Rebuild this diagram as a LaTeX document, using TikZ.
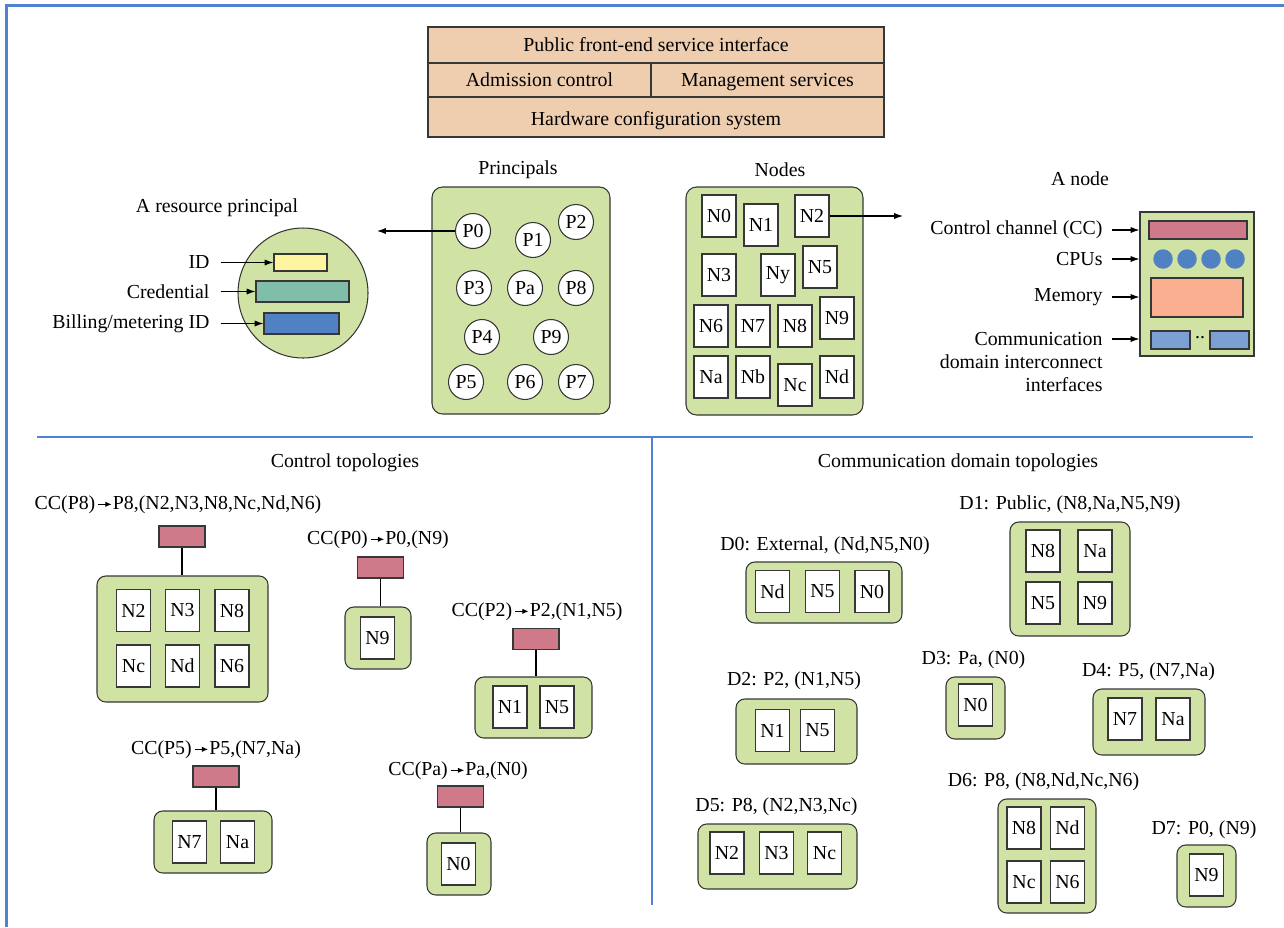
\documentclass[tikz,border=0pt]{standalone}
\usepackage{fontspec}
\setmainfont{Liberation Serif}
\usetikzlibrary{arrows.meta,positioning}
\definecolor{peach}{RGB}{239,206,176}
\definecolor{grpgreen}{RGB}{209,227,164}
\definecolor{ccred}{RGB}{207,122,138}
\definecolor{cpublue}{RGB}{79,129,195}
\definecolor{memsalmon}{RGB}{250,176,144}
\definecolor{ifblue}{RGB}{125,160,212}
\definecolor{idyellow}{RGB}{255,245,160}
\definecolor{credteal}{RGB}{128,190,170}
\definecolor{billblue}{RGB}{80,130,195}
\definecolor{frameblue}{RGB}{80,130,210}
\definecolor{linegray}{RGB}{55,55,55}
\tikzset{
  sz/.style 2 args={minimum width=#1*0.02cm, minimum height=#2*0.02cm},
  layer/.style={draw=linegray, fill=peach, text height=2ex, text depth=0.3ex},
  bigbox/.style={draw=linegray, fill=grpgreen, rounded corners=6pt, inner sep=0pt},
  grp/.style={draw=linegray, fill=grpgreen, rounded corners=5pt, inner sep=0pt},
  cell/.style={draw=linegray, fill=white, minimum width=0.68cm, minimum height=0.84cm, inner sep=0pt},
  prin/.style={circle, draw=linegray, fill=white, minimum size=0.7cm, inner sep=0pt},
  ccbar/.style={draw=linegray, fill=ccred, minimum width=0.92cm, minimum height=0.42cm, inner sep=0pt},
  bar/.style={draw=linegray, inner sep=0pt},
  lbl/.style={inner sep=0pt},
  arr/.style={-{Latex[length=5pt,width=3.5pt]}},
  sepline/.style={draw=frameblue, line width=1.2pt},
}
\newcommand{\ccto}{\hspace{1.5pt}\tikz[baseline=-0.6ex]\draw[line width=0.5pt,-{Latex[length=3.5pt,width=3pt]}] (0,0) -- (7.5pt,0);\hspace{0.5pt}}

\begin{document}
\begin{tikzpicture}[x=0.02cm,y=-0.02cm,line width=0.6pt,font=\fontsize{11.3}{13.6}\selectfont]
\useasboundingbox (0,0) rectangle (1284,927);
% Frame and dividers
\draw[sepline] (6.5,927) -- (6.5,5.5) -- (1284,5.5);
\draw[sepline] (37,437) -- (1253,437);
\draw[sepline] (652,437) -- (652,905);

% Service layers
\node[layer, sz={456}{36}] (front) at (656,45) {Public front-end service interface};
\node[layer, sz={223}{34}] (adm) at (539.5,80) {Admission control};
\node[layer, sz={233}{34}] (mgmt) at (767.5,80) {Management services};
\node[layer, sz={456}{40}, text depth=0pt] (hw) at (656,117) {Hardware configuration system};

% Principals
\node (lblprin) at (518,170) {Principals};
\node[bigbox, sz={178}{227}] (prinbox) at (521,300.5) {};
\foreach \n/\x/\y in {0/473/231, 1/533/240, 2/576/222, 3/474/288, a/525/288, 8/576/288,
                      4/482/337, 9/551/337, 5/466/382, 6/525/382, 7/576/382}
  \node[prin] (P\n) at (\x,\y) {P\n};

% Nodes
\node (lblnodes) at (780,170) {Nodes};
\node[bigbox, sz={177}{228}] (nodebox) at (774.5,301) {};
\foreach \n/\x/\y in {0/719/216, 1/761/225, 2/812/216, 3/719/275, y/778/275, 5/820/267,
                      6/711/326, 7/753/326, 8/795/326, 9/837/318,
                      a/711/377, b/753/377, c/795/385, d/837/377}
  \node[cell] (N\n) at (\x,\y) {N\n};

% A resource principal
\node (lblrp) at (217,208) {A resource principal};
\node[circle, draw=linegray, fill=grpgreen, minimum size=2.6cm, inner sep=0pt] (rp) at (303,293) {};
\node[bar, fill=idyellow, sz={53}{17}] (rid) at (300.5,262.5) {};
\node[bar, fill=credteal, sz={93}{21}] (rcred) at (302.5,291.5) {};
\node[bar, fill=billblue, sz={75}{21}] (rbill) at (301.5,323.5) {};
\node[lbl, anchor=east] (lblid) at (210,262.5) {ID};
\node[lbl, anchor=east] (lblcred) at (210,291.5) {Credential};
\node[lbl, anchor=east] (lblbill) at (210,323.5) {Billing/metering ID};
\draw[arr, shorten <=6pt] (lblid.east) -- (lblid.east -| rid.west);
\draw[arr, shorten <=6pt] (lblcred.east) -- (lblcred.east -| rcred.west);
\draw[arr, shorten <=6pt] (lblbill.east) -- (lblbill.east -| rbill.west);
\coordinate (rpin) at (377,231);
\draw[arr] (P0) -- (rpin);

% A node
\node (lblan) at (1080,179) {A node};
\node[draw=linegray, fill=grpgreen, sz={114}{144}, inner sep=0pt] (anode) at (1197,284) {};
\node[bar, fill=ccred, sz={98}{18}] (acc) at (1198,230) {};
\foreach \i/\x in {1/1163, 2/1187, 3/1211, 4/1235}
  \node[circle, fill=cpublue, minimum size=0.39cm, inner sep=0pt] (cpu\i) at (\x,259) {};
\node[bar, fill=memsalmon, sz={92}{39}] (amem) at (1197,297.5) {};
\node[bar, fill=ifblue, sz={39}{18}] (aif1) at (1170.5,340) {};
\node[bar, fill=ifblue, sz={39}{18}] (aif2) at (1229.5,340) {};
\node[inner sep=0pt] (adots) at (1200,338) {..};
\node[lbl, anchor=east] (lblcc) at (1103,230) {Control channel (CC)};
\node[lbl, anchor=east] (lblcpu) at (1103,259) {CPUs};
\node[lbl, anchor=east] (lblmem) at (1103,297) {Memory};
\node[lbl, anchor=east] (lblcom) at (1103,339) {Communication};
\node[lbl, anchor=east] (lblcomb) at (1103,362) {domain interconnect};
\node[lbl, anchor=east] (lblcomc) at (1103,385) {interfaces};
\foreach \l in {lblcc, lblcpu, lblmem, lblcom}
  \draw[arr, shorten <=5pt] (\l.east) -- (\l.east -| anode.west);
\coordinate (anin) at (903,216);
\draw[arr] (N2) -- (anin);

% Control topologies
\node (lblctl) at (345,463) {Control topologies};
% P8
\node (t8) at (178,505) {CC(P8)\ccto P8,(N2,N3,N8,Nc,Nd,N6)};
\node[ccbar] (cc8) at (182,536.5) {};
\node[grp, sz={171}{126}] (g8) at (182.5,639) {};
\foreach \n/\x/\y in {N2/133.5/610.5, N3/182.5/610.5, N8/232/610.5, Nc/133.5/666, Nd/182.5/666, N6/232/666}
  \node[cell] (g8\n) at (\x,\y) {\n};
\draw (cc8) -- (cc8.south |- g8.north);
% P0
\node (t0) at (378,540) {CC(P0)\ccto P0,(N9)};
\node[ccbar] (cc0) at (380.5,567.5) {};
\node[grp, sz={66}{62}] (g0) at (378,638) {};
\node[cell] (g0N9) at (377.5,638) {N9};
\draw (cc0) -- (cc0.south |- g0.north);
% P2
\node (t2) at (537,612) {CC(P2)\ccto P2,(N1,N5)};
\node[ccbar] (cc2) at (536,639) {};
\node[grp, sz={117}{61}] (g2) at (533.5,707.5) {};
\node[cell] (g2N1) at (510,707) {N1};
\node[cell] (g2N5) at (557,707) {N5};
\draw (cc2) -- (cc2.south |- g2.north);
% P5
\node (t5) at (216,750) {CC(P5)\ccto P5,(N7,Na)};
\node[ccbar] (cc5) at (216,776.5) {};
\node[grp, sz={118}{62}] (g5) at (213,842) {};
\node[cell] (g5N7) at (189.5,842) {N7};
\node[cell] (g5Na) at (237.5,842) {Na};
\draw (cc5) -- (cc5.south |- g5.north);
% Pa
\node (ta) at (458,771) {CC(Pa)\ccto Pa,(N0)};
\node[ccbar] (cca) at (460.5,796.5) {};
\node[grp, sz={64}{62}] (ga) at (459,864) {};
\node[cell] (gaN0) at (458.5,864) {N0};
\draw (cca) -- (cca.south |- ga.north);

% Communication domain topologies
\node (lblcdt) at (958,463) {Communication domain topologies};
% D0
\node (d0) at (825,546) {D0: External, (Nd,N5,N0)};
\node[grp, sz={156}{61}] (dg0) at (824,592.5) {};
\foreach \n/\x in {Nd/772.5, N5/822.5, N0/872}
  \node[cell] (dg0\n) at (\x,591.5) {\n};
% D1
\node (d1) at (1070,505) {D1: Public, (N8,Na,N5,N9)};
\node[grp, sz={120}{114}] (dg1) at (1070,579) {};
\foreach \n/\x/\y in {N8/1043/551, Na/1095/551, N5/1043/603, N9/1095/603}
  \node[cell] (dg1\n) at (\x,\y) {\n};
% D2
\node (d2) at (794,681) {D2: P2, (N1,N5)};
\node[grp, sz={121}{65}] (dg2) at (796.5,731.5) {};
\node[cell] (dg2N1) at (772.5,730.5) {N1};
\node[cell] (dg2N5) at (817.5,730.5) {N5};
% D3
\node (d3) at (973.5,660) {D3: Pa, (N0)};
\node[grp, sz={59}{62}] (dg3) at (975.5,708) {};
\node[cell] (dg3N0) at (975.5,705) {N0};
% D4
\node (d4) at (1148.5,672) {D4: P5, (N7,Na)};
\node[grp, sz={112}{66}] (dg4) at (1149,722) {};
\node[cell] (dg4N7) at (1125,719) {N7};
\node[cell] (dg4Na) at (1173,719) {Na};
% D5
\node (d5) at (776.5,807) {D5: P8, (N2,N3,Nc)};
\node[grp, sz={159}{65}] (dg5) at (777.5,856.5) {};
\foreach \n/\x in {N2/727, N3/776.5, Nc/824.5}
  \node[cell] (dg5\n) at (\x,853) {\n};
% D6
\node (d6) at (1043.5,782) {D6: P8, (N8,Nd,Nc,N6)};
\node[grp, sz={98}{114}] (dg6) at (1047,856) {};
\foreach \n/\x/\y in {N8/1024/828, Nd/1067.5/828, Nc/1024/882, N6/1067.5/882}
  \node[cell] (dg6\n) at (\x,\y) {\n};
% D7
\node (d7) at (1204,830) {D7: P0, (N9)};
\node[grp, sz={59}{62}] (dg7) at (1206.5,876) {};
\node[cell] (dg7N9) at (1206.5,875) {N9};
\end{tikzpicture}
\end{document}
